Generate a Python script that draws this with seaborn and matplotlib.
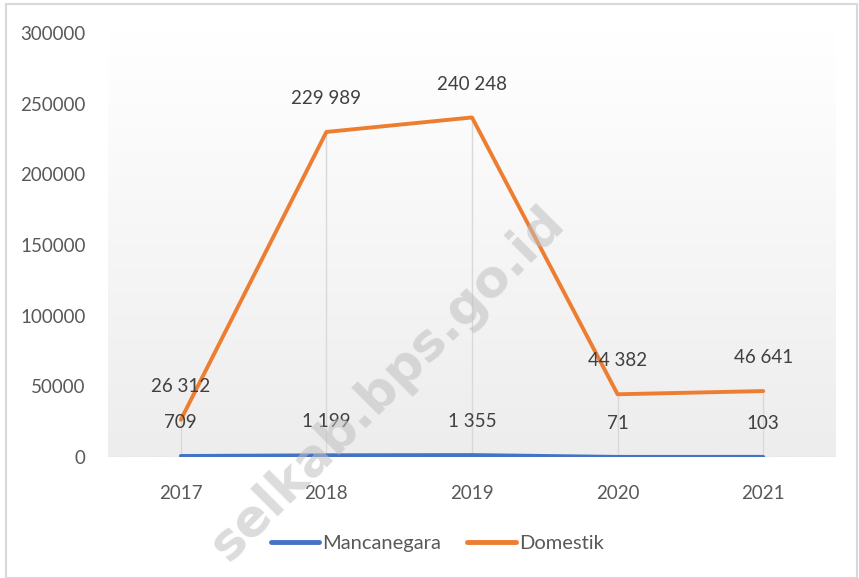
import matplotlib
matplotlib.use("Agg")
import matplotlib.pyplot as plt
import numpy as np
import pandas as pd
import seaborn as sns
from matplotlib.patches import Rectangle

years = ["2017", "2018", "2019", "2020", "2021"]
mancanegara = [709, 1199, 1355, 71, 103]
domestik = [26312, 229989, 240248, 44382, 46641]
series_names = ["Mancanegara", "Domestik"]
series_colors = ["#4472C4", "#ED7D31"]
y_ticks = [0, 50000, 100000, 150000, 200000, 250000, 300000]

sns.set_theme(style="white")
plt.rcParams["font.family"] = ["Lato", "DejaVu Sans"]

df = pd.DataFrame({
    "year": years * 2,
    "value": mancanegara + domestik,
    "series": [series_names[0]] * len(years) + [series_names[1]] * len(years),
})
df["x"] = list(range(len(years))) * 2

fig = plt.figure(figsize=(8.59, 5.78), dpi=100)
ax = fig.add_axes([108 / 859, 121 / 578, 728 / 859, 424 / 578])

# soft grey gradient behind the plot area
grad = np.linspace(0, 1, 256).reshape(-1, 1)
ax.imshow(grad, cmap=matplotlib.colors.LinearSegmentedColormap.from_list("bg", ["#ffffff", "#ededed"]),
          extent=[-0.5, 4.5, 0, 300000], aspect="auto", origin="upper", zorder=0)

# drop lines
tops = np.maximum(mancanegara, domestik)
ax.vlines(range(len(years)), 0, tops, color="#d9d9d9", lw=1, zorder=1)
ax.axhline(0, color="#d9d9d9", lw=1, zorder=1)

sns.lineplot(data=df, x="x", y="value", hue="series", palette=series_colors,
             linewidth=2.8, ax=ax, legend=True, zorder=3)

for vals in (mancanegara, domestik):
    for i, v in enumerate(vals):
        ax.annotate(f"{v:,}".replace(",", " "), (i, v), xytext=(0, 24), textcoords="offset points",
                    ha="center", va="center", fontsize=13.5, color="#404040", zorder=4)

ax.set_xlim(-0.5, 4.5)
ax.set_ylim(0, 300000)
ax.set_xticks(range(len(years)))
ax.set_xticklabels(years)
ax.set_yticks(y_ticks)
ax.set_yticklabels([str(t) for t in y_ticks])
ax.tick_params(axis="y", labelsize=13.5, colors="#595959", pad=16, length=0)
ax.tick_params(axis="x", labelsize=13.5, colors="#595959", pad=20, length=0)
ax.set_xlabel("")
ax.set_ylabel("")
for s in ax.spines.values():
    s.set_visible(False)

handles, labels = ax.get_legend_handles_labels()
for h in handles:
    h.set_linewidth(3.5)
ax.legend(handles, labels, loc="center", bbox_to_anchor=(0.509, 0.06), bbox_transform=fig.transFigure,
          ncol=2, frameon=False, fontsize=14.5, handlelength=2.4, handletextpad=0.15, columnspacing=1.3,
          labelcolor="#595959")

# watermark
fig.text(0.452, 0.335, "selkab.bps.go.id", rotation=45, fontsize=37, fontweight="bold",
         color="#bfbfbf", alpha=0.55, ha="center", va="center", family="DejaVu Sans", zorder=10)

fig.patches.append(Rectangle((6 / 859, 0), 851 / 859, 574 / 578, transform=fig.transFigure,
                             fill=False, edgecolor="#d9d9d9", lw=1.5))

fig.savefig("out.png", dpi=100)
